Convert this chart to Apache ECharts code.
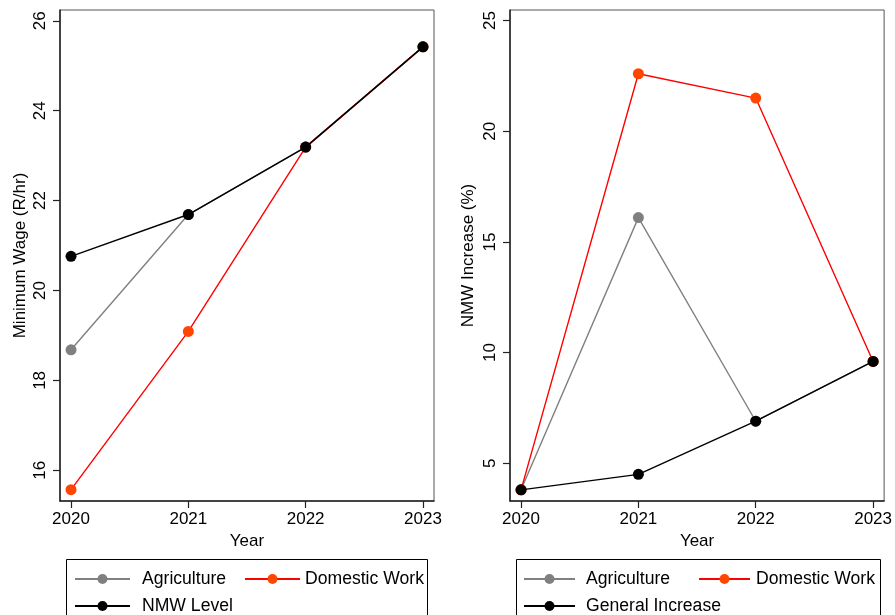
<!DOCTYPE html>
<html>
<head>
<meta charset="utf-8">
<script src="https://cdn.jsdelivr.net/npm/echarts@6/dist/echarts.min.js"></script>
<style>html,body{margin:0;padding:0;background:#fff}#c{width:895px;height:615px}</style>
</head>
<body>
<div id="c"></div>
<script>
const years = [2020, 2021, 2022, 2023];
const levelAgriculture = [18.68, 21.69, 23.19, 25.42];
const levelDomestic = [15.57, 19.09, 23.19, 25.42];
const levelNMW = [20.76, 21.69, 23.19, 25.42];
const incAgriculture = [3.8, 16.1, 6.9, 9.6];
const incDomestic = [3.8, 22.6, 21.5, 9.6];
const incGeneral = [3.8, 4.5, 6.9, 9.6];
const leftTicks = [16, 18, 20, 22, 24, 26];
const rightTicks = [5, 10, 15, 20, 25];

const FONT = 'Liberation Sans';
const FS = 17;
const pair = (vals) => years.map((y, i) => [y, vals[i]]);

function xAxis(gi) {
  return {
    gridIndex: gi, type: 'value', min: 2019.906, max: 2023.094,
    name: 'Year', nameLocation: 'middle', nameGap: 30,
    nameTextStyle: {fontFamily: FONT, fontSize: FS, color: '#000'},
    axisLine: {show: true, onZero: false, lineStyle: {color: '#222', width: 1.5}},
    axisTick: {show: true, length: 7, lineStyle: {color: '#222', width: 1.2}, customValues: years},
    axisLabel: {fontFamily: FONT, fontSize: FS, color: '#000', margin: 10, customValues: years, formatter: v => String(v)},
    splitLine: {show: false}
  };
}
function yAxis(gi, min, max, ticks, name, gap) {
  return {
    gridIndex: gi, type: 'value', min: min, max: max,
    name: name, nameLocation: 'middle', nameGap: gap,
    nameTextStyle: {fontFamily: FONT, fontSize: FS, color: '#000'},
    axisLine: {show: true, onZero: false, lineStyle: {color: '#222', width: 1.5}},
    axisTick: {show: true, length: 7, lineStyle: {color: '#222', width: 1.2}, customValues: ticks},
    axisLabel: {fontFamily: FONT, fontSize: FS, color: '#000', margin: 11, rotate: 90, customValues: ticks, formatter: v => String(v)},
    splitLine: {show: false}
  };
}
function line(name, data, xi, lineColor, dotColor, z) {
  return {
    name: name, type: 'line', xAxisIndex: xi, yAxisIndex: xi, data: data,
    symbol: 'circle', symbolSize: 11, showSymbol: true, z: z,
    lineStyle: {color: lineColor, width: 1.4},
    itemStyle: {color: dotColor, borderWidth: 0},
    emphasis: {disabled: true}, animation: false
  };
}
function legendItem(name, left, top, iw, pad) {
  return {
    data: [name], left: left, top: top, padding: 0, orient: 'horizontal',
    itemWidth: iw, itemHeight: 12.5, selectedMode: false,
    textStyle: {fontFamily: FONT, fontSize: 17.6, color: '#000', padding: [0, 0, 0, pad]}
  };
}

const chart = echarts.init(document.getElementById('c'), null, {renderer: 'canvas'});
chart.setOption({
  animation: false,
  backgroundColor: '#fff',
  grid: [
    {left: 60, top: 10, width: 374, height: 491, show: true, borderColor: '#555', borderWidth: 1},
    {left: 510, top: 10, width: 377, height: 491, show: true, borderColor: '#555', borderWidth: 1}
  ],
  xAxis: [xAxis(0), xAxis(1)],
  yAxis: [
    yAxis(0, 15.317, 26.24, leftTicks, 'Minimum Wage (R/hr)', 31.5),
    yAxis(1, 3.296, 25.48, rightTicks, 'NMW Increase (%)', 33)
  ],
  legend: [
    legendItem('Agriculture', 74, 570, 55, 7),
    legendItem('Domestic Work', 244, 570, 55, 0),
    legendItem('NMW Level', 74, 597, 55, 7),
    legendItem('Agriculture', 523, 570, 51, 6),
    legendItem('Domestic Work', 698, 570, 51, 1),
    legendItem('General Increase', 523, 597, 51, 6)
  ],
  graphic: [
    {type: 'rect', shape: {x: 66.5, y: 559.5, width: 361, height: 80}, style: {fill: 'none', stroke: '#000', lineWidth: 1}, z: 0},
    {type: 'rect', shape: {x: 516.5, y: 559.5, width: 364, height: 80}, style: {fill: 'none', stroke: '#000', lineWidth: 1}, z: 0}
  ],
  series: [
    line('Agriculture', pair(levelAgriculture), 0, '#808080', '#808080', 2),
    line('Domestic Work', pair(levelDomestic), 0, '#ff0000', '#ff4500', 3),
    line('NMW Level', pair(levelNMW), 0, '#000000', '#000000', 4),
    line('Agriculture', pair(incAgriculture), 1, '#808080', '#808080', 2),
    line('Domestic Work', pair(incDomestic), 1, '#ff0000', '#ff4500', 3),
    line('General Increase', pair(incGeneral), 1, '#000000', '#000000', 4)
  ]
});
</script>
</body>
</html>
